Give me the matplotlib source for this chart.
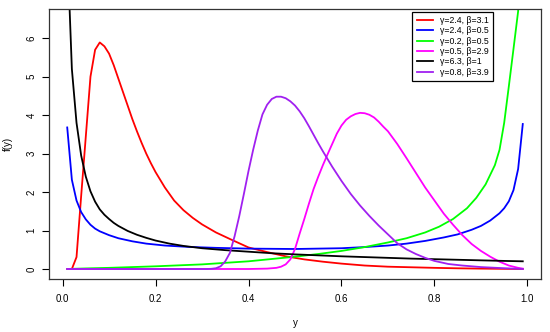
import matplotlib
matplotlib.use("Agg")
import matplotlib.pyplot as plt

plt.rcParams['font.family'] = ['Liberation Sans', 'DejaVu Sans']

# ---- data ----
red_x = [0.01, 0.02, 0.03, 0.04, 0.05, 0.06, 0.07, 0.08, 0.09, 0.10, 0.11, 0.12, 0.13, 0.14,
         0.15, 0.16, 0.17, 0.18, 0.19, 0.20, 0.22, 0.24, 0.26, 0.28, 0.30, 0.33, 0.36, 0.40,
         0.44, 0.48, 0.52, 0.56, 0.60, 0.65, 0.70, 0.75, 0.80, 0.85, 0.90, 0.95, 0.99]
red_y = [0.0, 0.0, 0.31, 1.9, 3.45, 5.0, 5.7, 5.89, 5.79, 5.6, 5.3, 4.95, 4.6, 4.25,
         3.9, 3.58, 3.28, 3.0, 2.75, 2.52, 2.12, 1.78, 1.53, 1.33, 1.16, 0.95, 0.78, 0.56,
         0.44, 0.33, 0.25, 0.19, 0.14, 0.09, 0.06, 0.045, 0.03, 0.018, 0.01, 0.004, 0.0]

blue_x = [0.01, 0.02, 0.03, 0.04, 0.05, 0.06, 0.07, 0.08, 0.10, 0.12, 0.15, 0.18, 0.22, 0.27,
          0.33, 0.40, 0.50, 0.60, 0.65, 0.70, 0.74, 0.78, 0.82, 0.85, 0.88, 0.90, 0.92, 0.94,
          0.95, 0.96, 0.97, 0.98, 0.99]
blue_y = [3.68, 2.32, 1.78, 1.48, 1.29, 1.15, 1.05, 0.98, 0.88, 0.80, 0.72, 0.66, 0.61, 0.575,
          0.55, 0.53, 0.52, 0.54, 0.57, 0.61, 0.66, 0.73, 0.82, 0.90, 1.02, 1.12, 1.26, 1.45,
          1.58, 1.76, 2.05, 2.60, 3.77]

green_x = [0.01, 0.05, 0.10, 0.15, 0.20, 0.25, 0.30, 0.35, 0.40, 0.45, 0.50, 0.55, 0.60,
           0.65, 0.70, 0.74, 0.78, 0.81, 0.84, 0.87, 0.89, 0.91, 0.93, 0.94, 0.95, 0.96,
           0.97, 0.98, 0.99]
green_y = [0.0, 0.015, 0.03, 0.05, 0.07, 0.095, 0.12, 0.16, 0.20, 0.26, 0.32, 0.39, 0.47,
           0.57, 0.69, 0.80, 0.95, 1.10, 1.30, 1.58, 1.85, 2.20, 2.70, 3.10, 3.80, 4.75,
           5.72, 6.70, 9.0]

magenta_x = [0.01, 0.40, 0.44, 0.46, 0.47, 0.48, 0.49, 0.50, 0.51, 0.52, 0.53, 0.54, 0.55,
             0.56, 0.57, 0.58, 0.59, 0.60, 0.61, 0.62, 0.63, 0.64, 0.65, 0.66, 0.67, 0.68,
             0.69, 0.70, 0.72, 0.74, 0.76, 0.78, 0.80, 0.82, 0.84, 0.86, 0.88, 0.90, 0.92,
             0.94, 0.96, 0.98, 0.99]
magenta_y = [0.0, 0.0, 0.01, 0.03, 0.06, 0.12, 0.25, 0.52, 0.92, 1.30, 1.70, 2.08, 2.40,
             2.70, 2.98, 3.25, 3.52, 3.73, 3.88, 3.97, 4.03, 4.06, 4.05, 4.01, 3.94, 3.83,
             3.70, 3.58, 3.25, 2.88, 2.50, 2.12, 1.78, 1.44, 1.15, 0.88, 0.65, 0.47, 0.32,
             0.19, 0.09, 0.03, 0.01]

black_x = [0.01, 0.02, 0.03, 0.04, 0.05, 0.06, 0.07, 0.08, 0.09, 0.10, 0.11, 0.12, 0.14,
           0.16, 0.18, 0.20, 0.23, 0.26, 0.30, 0.35, 0.40, 0.45, 0.50, 0.55, 0.60, 0.65,
           0.70, 0.75, 0.80, 0.85, 0.90, 0.95, 0.99]
black_y = [8.4, 5.2, 3.8, 2.95, 2.40, 2.02, 1.75, 1.55, 1.41, 1.30, 1.20, 1.12, 0.99,
           0.89, 0.81, 0.74, 0.66, 0.60, 0.54, 0.49, 0.45, 0.41, 0.38, 0.355, 0.33, 0.31,
           0.29, 0.27, 0.255, 0.24, 0.225, 0.21, 0.20]

purple_x = [0.01, 0.31, 0.32, 0.33, 0.34, 0.35, 0.36, 0.37, 0.38, 0.39, 0.40, 0.41, 0.42,
            0.43, 0.44, 0.45, 0.46, 0.47, 0.48, 0.49, 0.50, 0.51, 0.52, 0.53, 0.54, 0.55,
            0.56, 0.57, 0.58, 0.60, 0.62, 0.64, 0.66, 0.68, 0.70, 0.72, 0.74, 0.76, 0.78,
            0.80, 0.83, 0.86, 0.90, 0.95, 0.99]
purple_y = [0.0, 0.0, 0.005, 0.02, 0.07, 0.20, 0.42, 0.85, 1.37, 1.95, 2.55, 3.10, 3.60,
            4.02, 4.27, 4.42, 4.48, 4.48, 4.44, 4.36, 4.25, 4.10, 3.92, 3.71, 3.49, 3.27,
            3.06, 2.86, 2.66, 2.29, 1.95, 1.65, 1.38, 1.13, 0.90, 0.67, 0.51, 0.39, 0.29,
            0.21, 0.13, 0.09, 0.05, 0.02, 0.0]

labels = ["\u03b3=2.4, \u03b2=3.1", "\u03b3=2.4, \u03b2=0.5", "\u03b3=0.2, \u03b2=0.5",
          "\u03b3=0.5, \u03b2=2.9", "\u03b3=6.3, \u03b2=1", "\u03b3=0.8, \u03b2=3.9"]
colors = ["#FF0000", "#0000FF", "#00FF00", "#FF00FF", "#000000", "#A020F0"]

xticks = [0.0, 0.2, 0.4, 0.6, 0.8, 1.0]
xtick_labels = ["0.0", "0.2", "0.4", "0.6", "0.8", "1.0"]
yticks = [0, 1, 2, 3, 4, 5, 6]
ytick_labels = ["0", "1", "2", "3", "4", "5", "6"]

# ---- figure ----
fig = plt.figure(figsize=(5.5, 3.32), dpi=100)
ax = fig.add_axes([49/550, 53/332, 492/550, 270/332])

series = [(red_x, red_y), (blue_x, blue_y), (green_x, green_y),
          (magenta_x, magenta_y), (black_x, black_y), (purple_x, purple_y)]
for (xs, ys), c, lab in zip(series, colors, labels):
    ax.plot(xs, ys, color=c, lw=1.3, label=lab, solid_joinstyle='round')

ax.set_xlim(0.01 - 0.04 * 0.98, 0.99 + 0.04 * 0.98)
ax.set_ylim(-0.26, 6.76)
ax.set_xticks(xticks)
ax.set_xticklabels(xtick_labels)
ax.set_yticks(yticks)
ax.set_yticklabels(ytick_labels, rotation=90, va='center')
ax.tick_params(axis='both', direction='out', length=5, width=0.8, labelsize=7,
               colors='black')
ax.tick_params(axis='x', pad=6)
ax.tick_params(axis='y', pad=4)
for s in ax.spines.values():
    s.set_linewidth(0.9)
    s.set_color('#333333')

ax.set_xlabel("y", fontsize=7, labelpad=10)
ax.set_ylabel("f(y)", fontsize=7, labelpad=10)

leg = ax.legend(loc='upper right', bbox_to_anchor=(0.902, 0.99), fontsize=6.3,
                frameon=True, fancybox=False, framealpha=1, edgecolor='black',
                handlelength=1.8, handletextpad=0.8, labelspacing=0.15,
                borderpad=0.5, borderaxespad=0.0)
leg.get_frame().set_linewidth(0.9)

fig.savefig("out.png", dpi=100)
